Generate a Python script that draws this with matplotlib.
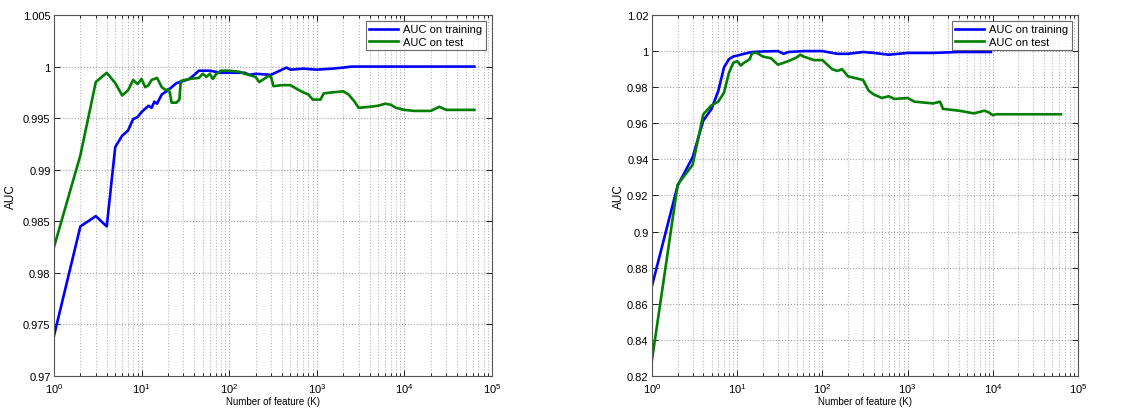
import matplotlib
matplotlib.use("Agg")
import matplotlib.pyplot as plt
from matplotlib.ticker import LogLocator, FuncFormatter, NullFormatter

plt.rcParams['font.family'] = ['Liberation Sans', 'DejaVu Sans']
plt.rcParams['mathtext.fontset'] = 'custom'
plt.rcParams['mathtext.rm'] = 'Liberation Sans'
plt.rcParams['mathtext.it'] = 'Liberation Sans'

# ---- Left panel data ----
left_train_x = [1, 2, 3, 4, 5, 6, 7, 8, 9, 10, 12, 13, 14, 15, 17, 20, 25, 30, 35, 40, 45,
                60, 80, 100, 150, 170, 200, 300, 400, 450, 500, 700, 1000, 1500, 2000, 2500, 63000]
left_train_y = [0.9739, 0.9845, 0.9855, 0.9845, 0.9922, 0.9933, 0.9938, 0.9949, 0.9951, 0.9956,
                0.9962, 0.9960, 0.9966, 0.9964, 0.9973, 0.9977, 0.9984, 0.9986, 0.9988, 0.9992,
                0.9996, 0.9996, 0.9994, 0.9994, 0.9994, 0.9992, 0.9993, 0.9992, 0.9997, 0.9999,
                0.9997, 0.9998, 0.9997, 0.9998, 0.9999, 1.0, 1.0]

left_test_x = [1, 2, 3, 4, 5, 6, 7, 8, 9, 10, 11, 12, 13, 15, 17, 19, 20, 21, 22, 25, 27, 28,
               35, 45, 50, 55, 60, 65, 70, 80, 100, 130, 150, 200, 220, 250, 280, 300, 320, 400,
               500, 600, 700, 800, 900, 1100, 1200, 1500, 2000, 2300, 2700, 3000, 4000, 5000,
               6000, 7000, 8000, 10000, 13000, 20000, 25000, 30000, 63000]
left_test_y = [0.9825, 0.9914, 0.9985, 0.9994, 0.9984, 0.9972, 0.9977, 0.9987, 0.9983, 0.9988,
               0.9980, 0.9982, 0.9987, 0.9989, 0.9980, 0.9977, 0.9978, 0.9975, 0.9965, 0.9965,
               0.9968, 0.9986, 0.9988, 0.9989, 0.9993, 0.9990, 0.9993, 0.9988, 0.9992, 0.9996,
               0.9996, 0.9995, 0.9993, 0.9990, 0.9985, 0.9988, 0.9991, 0.9990, 0.9981, 0.9982,
               0.9982, 0.9978, 0.9975, 0.9973, 0.9968, 0.9968, 0.9974, 0.9975, 0.9976, 0.9973,
               0.9966, 0.9960, 0.9961, 0.9962, 0.9964, 0.9963, 0.9960, 0.9958, 0.9957, 0.9957,
               0.9961, 0.9958, 0.9958]

# ---- Right panel data ----
right_train_x = [1, 2, 3, 4, 5, 6, 7, 8, 9, 10, 12, 15, 20, 30, 35, 40, 60, 100, 150, 200, 300,
                 400, 600, 1000, 2000, 4000, 9500]
right_train_y = [0.870, 0.9255, 0.9412, 0.9615, 0.968, 0.978, 0.991, 0.9955, 0.997, 0.9975,
                 0.9985, 0.9995, 0.9998, 1.0, 0.9985, 0.9995, 1.0, 1.0, 0.9985, 0.9985, 0.9995,
                 0.999, 0.998, 0.999, 0.999, 0.9995, 0.9995]

right_test_x = [1, 2, 3, 4, 5, 6, 7, 8, 9, 10, 11, 12, 14, 15, 17, 20, 25, 30, 35, 40, 50, 55,
                60, 80, 100, 130, 150, 170, 200, 300, 350, 400, 500, 600, 700, 1000, 1200, 2000,
                2400, 2600, 4000, 6000, 8000, 9000, 10000, 11000, 63000]
right_test_y = [0.829, 0.926, 0.937, 0.965, 0.970, 0.972, 0.977, 0.988, 0.9935, 0.9945, 0.992,
                0.9935, 0.9955, 0.999, 0.999, 0.997, 0.996, 0.9925, 0.9935, 0.9945, 0.9965,
                0.998, 0.997, 0.995, 0.995, 0.990, 0.989, 0.990, 0.986, 0.984, 0.978, 0.976,
                0.974, 0.975, 0.9735, 0.974, 0.972, 0.971, 0.972, 0.968, 0.967, 0.9655, 0.967,
                0.966, 0.9645, 0.965, 0.965]

left_yticks = [0.97, 0.975, 0.98, 0.985, 0.99, 0.995, 1.0, 1.005]
right_yticks = [0.82, 0.84, 0.86, 0.88, 0.9, 0.92, 0.94, 0.96, 0.98, 1.0, 1.02]

train_color = '#0000ff'
test_color = '#007f00'

W, H = 1138, 410
fig = plt.figure(figsize=(W / 100, H / 100), dpi=100)

def make_axes(x0, x1, y_top, y_bot):
    return fig.add_axes([x0 / W, (H - y_bot) / H, (x1 - x0) / W, (y_bot - y_top) / H])

ax1 = make_axes(54, 492, 16, 377)
ax2 = make_axes(652, 1078, 16, 377)

def style(ax, yticks, ylim, ylabel_x):
    ax.set_xscale('log')
    ax.set_xlim(1, 1e5)
    ax.set_ylim(*ylim)
    ax.set_yticks(yticks)
    ax.yaxis.set_major_formatter(FuncFormatter(lambda v, p: '%g' % round(v, 4)))
    ax.xaxis.set_major_locator(LogLocator(base=10, numticks=10))
    ax.xaxis.set_minor_locator(LogLocator(base=10, subs=range(2, 10), numticks=100))
    ax.xaxis.set_minor_formatter(NullFormatter())
    ax.grid(True, which='major', axis='both', linestyle=':', color='#a0a0a0', linewidth=0.8)
    ax.grid(True, which='minor', axis='x', linestyle=':', color='#b8b8b8', linewidth=0.8)
    ax.tick_params(which='both', direction='in', top=True, right=True, labelsize=8,
                   colors='#000000', width=0.6)
    ax.tick_params(axis='y', pad=2.5)
    ax.tick_params(which='major', length=4)
    ax.tick_params(which='minor', length=2)
    for s in ax.spines.values():
        s.set_color('#555555')
        s.set_linewidth(0.8)
    ax.set_xlabel('Number of feature (K)', fontsize=7, labelpad=1)
    ax.set_ylabel('AUC', fontsize=8.5)
    bb = ax.get_position()
    ax.yaxis.set_label_coords((ylabel_x / W - bb.x0) / bb.width, 0.5)
    leg = ax.legend(loc='upper right', fontsize=8, frameon=True, fancybox=False,
                    borderpad=0.3, labelspacing=0.2, handlelength=2.6, handletextpad=0.5,
                    borderaxespad=0.55)
    leg.get_frame().set_edgecolor('#444444')
    leg.get_frame().set_linewidth(0.8)

ax1.plot(left_train_x, left_train_y, color=train_color, lw=1.9, label='AUC on training')
ax1.plot(left_test_x, left_test_y, color=test_color, lw=1.9, label='AUC on test')
style(ax1, left_yticks, (0.97, 1.005), 17)

ax2.plot(right_train_x, right_train_y, color=train_color, lw=1.9, label='AUC on training')
ax2.plot(right_test_x, right_test_y, color=test_color, lw=1.9, label='AUC on test')
style(ax2, right_yticks, (0.82, 1.02), 625)

fig.savefig('out.png', dpi=100)
